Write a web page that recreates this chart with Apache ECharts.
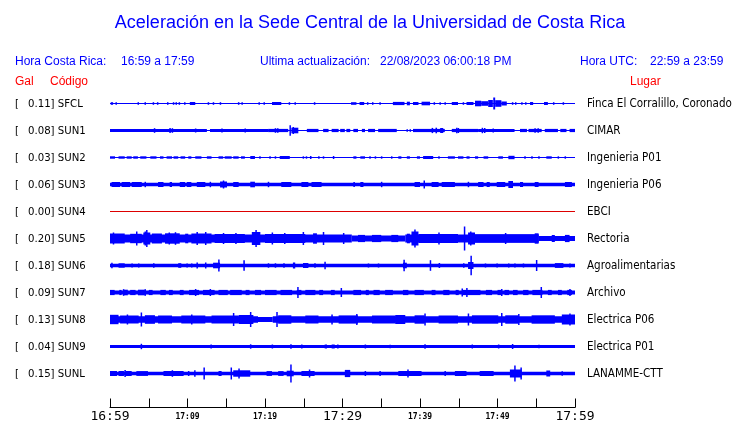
<!DOCTYPE html>
<html><head><meta charset="utf-8">
<script src="https://cdn.jsdelivr.net/npm/echarts@6/dist/echarts.min.js"></script>
<style>html,body{margin:0;padding:0;background:#fff}#c{width:740px;height:423px}</style>
</head><body><div id="c"></div>
<script>
// ---- data ----
const titleText = 'Aceleración en la Sede Central de la Universidad de Costa Rica';
const codes = ['SFCL','SUN1','SUN2','SUN3','SUN4','SUN5','SUN6','SUN7','SUN8','SUN9','SUNL'];
const gal = ['0.11','0.08','0.03','0.06','0.00','0.20','0.18','0.09','0.13','0.04','0.15'];
const places = ['Finca El Corralillo, Coronado','CIMAR','Ingenieria P01','Ingenieria P06','EBCI','Rectoria','Agroalimentarias','Archivo','Electrica P06','Electrica P01','LANAMME-CTT'];
const traceColors = ['#0000ff','#0000ff','#0000ff','#0000ff','#dd0000','#0000ff','#0000ff','#0000ff','#0000ff','#0000ff','#0000ff'];
const startMinute = 16*60+59;      // 16:59 local
const spanMinutes = 60;
const bigTicks = [0,30,60];
const smallTicks = [10,20,40,50];
// envelope segments per trace: [startMin, endMin, halfAmplitude]
const envSFCL = [[0,60,0.5],[0.1,0.4,1.3],[0.75,0.85,1.3],[3.6,3.7,1.3],[4.5,4.6,1.3],[5.55,5.65,1.3],[6.1,6.2,1.3],[7.4,7.5,1.3],[8.15,8.25,1.3],[8.5,8.6,1.3],[8.9,9,1.3],[9.6,9.7,1.3],[10.3,11.0,1.5],[12.65,12.75,1.3],[13.3,13.4,1.3],[14.2,14.3,1.3],[16.55,16.65,1.3],[17,17.1,1.3],[19.2,19.3,1.3],[19.85,19.95,1.3],[20.9,22.1,1.5],[23.1,23.2,1.3],[23.85,23.95,1.3],[26.35,26.45,1.3],[31.1,31.8,1.3],[32.2,32.8,1.5],[33.2,33.3,1.3],[33.85,33.95,1.3],[34.8,34.9,1.3],[36.5,38,1.6],[38.3,38.7,1.8],[39.1,39.8,1.5],[40.2,41.3,1.8],[41.8,41.9,1.3],[42.55,42.65,1.3],[43.2,43.3,1.3],[44.1,44.9,1.5],[45.55,45.65,1.3],[46,46.9,1.5],[47.1,47.9,2.8],[47.9,48.8,2.3],[48.8,49.4,3.5],[49.45,49.7,6],[49.7,50.5,3.3],[50.5,51.2,2],[51.9,52,1.3],[52.3,52.4,1.3],[53.1,53.2,1.3],[53.6,53.7,1.3],[54.2,54.6,1.5],[56,56.5,1.5],[57.2,57.3,1.3],[58.45,58.55,1.3]];
const envSUN1 = [[0,60,0.5],[0,12.5,1.6],[12.9,20.4,1.6],[20.4,23.0,1.6],[23.4,24.3,2.8],[25.4,26.9,1.6],[27.5,28.2,1.6],[28.6,29.5,1.6],[29.7,30.3,1.6],[30.5,31.0,1.6],[31.4,32.0,1.6],[32.5,32.9,1.6],[33.3,34.2,1.6],[34.6,37.0,1.6],[38.3,38.4,1.3],[38.7,38.8,1.3],[39.1,43.2,1.6],[44.1,47.5,1.6],[47.5,52.2,1.6],[52.9,53.8,1.6],[54.0,55.7,1.6],[56.1,57.8,1.6],[58.1,58.9,1.6],[59.3,60,1.6],[5.7,5.8,2.3],[7.7,7.8,2.5],[8.0,8.1,2.3],[11,11.1,2],[14.4,14.5,2],[17.4,17.5,2],[21.3,21.4,2.3],[21.6,21.7,2.2],[23.2,23.3,5.3],[23.6,23.7,3.5],[41.5,41.7,2.6],[42.0,42.2,2.8],[42.6,43.0,2.5],[44.7,44.8,2.8],[44.9,45.0,2.5],[48.0,48.1,2.7],[48.3,48.4,2.5],[49.4,49.5,2],[54.8,54.9,2.3],[55.2,55.3,2.2]];
const envSUN2 = [[0,60,0.5],[0,0.65,1.2],[1.1,1.9,1.2],[2.15,2.8,1.2],[3.0,3.6,1.2],[3.9,4.7,1.2],[5.2,6.0,1.2],[6.45,6.9,1.2],[7.3,8.0,1.2],[8.2,8.8,1.2],[9.1,9.7,1.2],[10.1,10.5,1.2],[11.0,11.8,1.2],[12.5,13.1,1.2],[14.0,14.6,1.2],[14.8,15.7,1.2],[15.9,16.6,1.2],[16.9,17.4,1.2],[18.1,18.7,1.5],[19.3,19.4,1.2],[20.6,20.7,1.2],[21.3,21.4,1.2],[21.9,23.2,1.5],[24.9,25.0,1.2],[25.3,25.4,1.2],[25.8,26.0,1.5],[26.9,27.0,1.2],[27.5,27.6,1.2],[28.8,28.9,1.5],[31.4,31.8,1.2],[32.3,32.9,1.2],[33.5,33.6,1.2],[34.2,34.3,1.2],[35.0,35.1,1.2],[36.3,36.4,1.2],[37.2,37.6,1.2],[38.3,38.7,1.2],[39.6,40.0,1.2],[40.4,41.7,1.5],[42.4,42.5,1.2],[43.6,44.5,1.2],[44.9,45.6,1.2],[46.0,46.4,1.2],[47.1,47.5,1.2],[48.2,48.8,1.2],[50.1,50.7,1.2],[51.4,52.2,1.7],[53.5,53.6,1.2],[54.4,54.5,1.2],[55.3,55.4,1.2],[56.3,57.0,1.2],[57.8,57.9,1.2],[58.7,58.8,1.2]];
const envSUN3 = [[0,60,1.7],[0.2,1.3,2.5],[1.5,2.6,2.5],[2.8,4.1,2.5],[4.5,4.6,2.7],[6.2,6.9,2.5],[7.7,8.0,2.5],[9.0,9.7,2.5],[9.9,10.5,2.5],[11.2,12.3,2.5],[12.9,13.0,2.7],[14.2,15.1,3],[14.6,14.7,4],[15.9,16.6,2.5],[18.1,18.7,2.8],[20.4,20.5,2.7],[22.1,23.4,2.5],[24.7,25.6,2.5],[26.0,27.3,2.5],[31.4,31.6,2.5],[32.3,32.7,2.5],[35.0,35.1,2.7],[39.3,40.0,2.5],[40.5,40.6,4],[41.5,42.4,2.5],[42.8,44.5,2.5],[46.2,46.3,2.7],[47.5,48.2,2.5],[48.6,49.0,2.5],[49.9,51.0,2.5],[51.4,52.0,3.5],[52.9,53.3,2.5],[54.8,55.3,2.5],[58.7,59.6,2.5]];
const envSUN4 = [[0,60,0.5]];
const envSUN5 = [[0,31.2,4],[31.2,38.1,3],[38.1,55.3,4],[55.3,60,2.5],[0,1.9,5],[0.4,0.5,6],[2.6,4.1,4.7],[3.4,3.5,7],[4.3,5.2,6],[4.7,4.8,8.5],[4.5,4.6,7],[5.4,6.7,5],[7.1,9.0,5.2],[7.6,7.7,6],[8.4,8.5,6.3],[9.7,10.1,4.8],[10.5,13.1,5],[11.2,11.3,6.5],[12.3,12.4,6.5],[13.5,17.4,4.5],[14.6,14.7,5.5],[16.2,16.3,5.5],[18.3,19.4,6.5],[18.8,18.9,8.5],[20.0,25.2,4.5],[20.9,21.0,6],[22.5,22.6,5.5],[24.9,25.0,6.5],[26.2,26.7,5.2],[27.5,27.6,6.5],[30.1,30.2,5.5],[32.0,32.9,3.6],[33.8,35.0,3.6],[36.3,37.2,3.6],[38.3,38.7,4.8],[38.9,39.8,7],[39.3,39.4,9],[39.8,44.9,4.6],[42.4,42.5,6],[45.7,45.8,12],[46.2,47.1,6],[46.5,46.6,7],[47.1,55.3,4.2],[51.0,51.1,5.5],[54.8,55.3,5.2],[57.0,57.4,3.5],[58.7,59.3,3.6]];
const envSUN6 = [[0,60,1.7],[0.2,0.3,2.8],[1.1,1.9,2.2],[2.8,2.9,2],[3.66,3.76,2],[5.6,5.7,2.2],[8.8,9.2,2.3],[9.9,10.0,2],[10.5,10.6,2],[11.2,11.3,3],[12.3,12.4,3],[13.3,14.2,2.8],[14.0,14.1,6],[17.2,17.4,5.3],[20.4,20.5,2.2],[21.3,21.4,2.2],[22.4,22.5,2.2],[23.6,23.9,3],[24.9,25.6,2.5],[26.4,26.5,2.2],[27.7,27.8,3.7],[33.3,33.4,2],[34.6,34.7,2],[37.8,38.3,2.8],[37.9,38.0,5.8],[41.3,41.4,5.3],[42.4,42.6,2.5],[45.6,45.7,2.2],[46.2,46.9,3.5],[46.55,46.65,9.8],[48.4,48.5,2],[49.9,50.0,2],[51.4,51.5,2],[52.2,52.3,2],[53.3,53.4,2],[55.0,55.1,5.5],[57.4,58.5,2.4],[59.3,59.4,2]];
const envSUN7 = [[0,60,2],[0,0.6,2.6],[1.2,1.5,2.6],[1.7,2.3,2.8],[1.7,1.8,3.3],[2.6,3.3,2.6],[3.6,4.5,2.8],[4.5,4.6,3.3],[5.0,5.5,2.6],[6.5,7.2,2.6],[7.6,8.1,2.6],[9.0,9.5,2.6],[10.2,11.5,2.6],[11.0,11.1,3.5],[12.0,13.5,2.6],[12.9,13.0,3.5],[14.0,15.2,2.6],[15.5,17.0,2.6],[17.5,18.0,2.6],[18.7,19.5,2.6],[20.0,21.5,2.6],[22.0,23.5,2.6],[24.1,24.7,2.6],[24.2,24.3,5.5],[25.2,26.5,2.6],[27.0,27.5,2.6],[28.5,29.0,2.6],[29.8,29.9,4.5],[31.4,32.4,2.6],[33.0,33.4,2.6],[34.0,34.8,2.6],[35.5,36.5,2.6],[37.8,38.5,2.6],[39.3,40.5,2.6],[41.5,42.0,2.6],[43.0,43.8,2.6],[44.6,45.0,2.6],[45.5,47.8,2.6],[45.4,45.5,4],[46.0,46.1,4.5],[48.5,49.3,2.6],[50.0,50.5,2.6],[50.5,50.6,3.5],[50.9,51.5,2.6],[52.0,52.6,2.6],[53.3,54.0,2.6],[54.5,55.8,2.6],[55.6,55.7,5.5],[56.5,57.0,2.6],[57.8,58.3,2.6],[59.0,59.6,2.6],[59.3,59.4,3.5]];
const envSUN8 = [[0,19.1,3.3],[19.1,21,2.5],[21,60,3.3],[0,1.1,4.7],[1.3,3.7,4],[2.2,2.3,5],[4.0,4.1,7],[4.5,5.8,4.3],[6.2,8.0,4],[9.2,12.3,4],[10.5,10.6,5],[13.1,16.6,4],[15.9,16.0,6.5],[16.6,18.5,4.5],[18.1,18.2,7.5],[21.5,21.6,7.5],[21.7,23.4,4.2],[25.2,26.9,4],[28.6,28.7,5],[29.5,32.0,4.1],[31.8,31.9,5.5],[33.8,36.8,4],[36.8,38.1,4.5],[39.3,40.6,4.2],[40.6,40.7,6],[42.4,44.9,4],[46.2,46.3,6],[46.7,50.1,4.2],[50.5,50.6,6.5],[51.0,52.7,4.2],[52.7,52.8,5.5],[54.4,57.4,4.2],[58.3,60,5],[59.3,59.4,6]];
const envSUN9 = [[0,60,1.5],[4.0,4.1,2.7],[13.0,13.1,2],[18.1,18.2,2.2],[20.9,21.0,2],[23.3,23.4,2.2],[24.7,24.8,2],[27.7,28.0,2],[28.6,29.0,2],[29.3,29.5,2],[32.9,33.0,2],[36.1,36.2,1.8],[40.6,40.7,2.2],[46.7,46.8,2],[50.1,50.2,2],[51.9,52.0,2.5],[55.3,55.4,1.8]];
const envSUNL = [[0,60,1.7],[0,0.9,2.5],[1.1,1.8,2.5],[2.0,2.8,2.5],[1.9,2.0,3.5],[3.4,4.9,2.4],[6.9,9.5,2.5],[8.0,8.1,3.3],[10.1,10.2,2.5],[10.9,11.0,3.3],[12.1,12.2,6],[14.0,14.4,2.5],[15.6,15.7,6],[15.9,18.1,3.2],[16.6,16.7,5],[20.2,20.9,2.4],[21.7,22.4,2.4],[22.8,23.7,2.8],[23.3,23.4,9],[24.7,26.4,2.5],[25.7,25.8,4],[30.3,31.0,3.6],[32.9,33.0,2.5],[34.8,34.9,2.5],[37.2,40.2,2.5],[38.4,38.5,4],[43.2,43.3,2.5],[44.5,46.0,2.5],[47.7,49.5,2.5],[51.6,53.1,4],[52.2,52.3,8],[53.0,53.1,6],[56.3,56.8,3],[58.3,58.4,2.3]];
const envelopes = [envSFCL, envSUN1, envSUN2, envSUN3, envSUN4, envSUN5, envSUN6, envSUN7, envSUN8, envSUN9, envSUNL];

// ---- layout ----
const plotLeft = 110, plotWidth = 465;
const rowTop0 = 89, rowStep = 27, rowHeight = 29;
const blue = '#0000ff', red = '#ff0000';
const condensed = "'DejaVu Sans Condensed', 'Liberation Sans Narrow', 'DejaVu Sans', sans-serif";
const arial = "'Liberation Sans', Arial, sans-serif";
const mono = "'DejaVu Sans Mono', monospace";

function fmtTime(v) {
  const t = startMinute + Math.round(v);
  const h = Math.floor(t/60), m = t % 60;
  return h + ':' + (m < 10 ? '0' : '') + m;
}

const grids = [], xAxes = [], yAxes = [], series = [], graphics = [];
codes.forEach((code, i) => {
  const top = rowTop0 + i*rowStep;
  grids.push({left: plotLeft, width: plotWidth, top: top, height: rowHeight});
  xAxes.push({gridIndex: i, type: 'value', min: 0, max: spanMinutes, show: false});
  yAxes.push({gridIndex: i, type: 'value', min: -rowHeight/2, max: rowHeight/2, show: false});
  const color = traceColors[i];
  series.push({
    type: 'custom', xAxisIndex: i, yAxisIndex: i, clip: true, silent: true,
    encode: {x: [0,1], y: 2},
    data: envelopes[i],
    renderItem: function (params, api) {
      const t0 = api.value(0), t1 = api.value(1), h = api.value(2);
      const a = api.coord([t0, h]), b = api.coord([t1, -h]);
      let x = a[0], w = b[0]-a[0];
      if (w < 1.5) { x = (a[0]+b[0])/2 - 0.75; w = 1.5; }
      return {type: 'rect', shape: {x: x, y: a[1], width: w, height: b[1]-a[1]}, style: {fill: color}};
    }
  });
  const cy = top + rowHeight/2;
  graphics.push({type:'text', left: 15, top: cy-5, style:{text:'[', font: '11.3px ' + condensed, fill:'#000'}});
  graphics.push({type:'text', left: 28, top: cy-5, style:{text: gal[i] + '] ' + code, font: '11.3px ' + condensed, fill:'#000'}});
  graphics.push({type:'text', left: 587, top: cy-5, style:{text: places[i], font: '11.5px ' + condensed, fill:'#000'}});
});
// time axis grid
const ai = codes.length;
grids.push({left: plotLeft, width: plotWidth, top: 395, height: 14});
yAxes.push({gridIndex: ai, type: 'value', show: false});
xAxes.push({gridIndex: ai, type: 'value', min: 0, max: spanMinutes, interval: 5, position: 'bottom',
  axisLine: {show: true, lineStyle: {color: '#000', width: 1}},
  axisTick: {show: true, inside: true, length: 9, lineStyle: {color: '#000'}},
  splitLine: {show: false},
  axisLabel: {show: true, margin: 9, verticalAlign: 'middle', color: '#000', fontFamily: mono, fontSize: 13,
    showMinLabel: true, showMaxLabel: true,
    formatter: v => bigTicks.indexOf(Math.round(v)) >= 0 ? fmtTime(v) : ''}});
xAxes.push({gridIndex: ai, type: 'value', min: 0, max: spanMinutes, interval: 5, position: 'bottom',
  axisLine: {show: false}, axisTick: {show: false}, splitLine: {show: false},
  axisLabel: {show: true, margin: 9, verticalAlign: 'middle', color: '#000', fontFamily: mono, fontSize: 8, fontWeight: 'bold',
    formatter: v => smallTicks.indexOf(Math.round(v)) >= 0 ? fmtTime(v) : ''}});

// header texts
graphics.push({type:'text', left: 'center', top: 14, style:{text: titleText, font: '18px ' + arial, fill: blue}});
graphics.push({type:'text', left: 15, top: 55.5, style:{text: 'Hora Costa Rica:', font: '12px ' + arial, fill: blue}});
graphics.push({type:'text', left: 121, top: 55.5, style:{text: fmtTime(0) + ' a ' + fmtTime(spanMinutes), font: '12px ' + arial, fill: blue}});
graphics.push({type:'text', left: 260, top: 55.5, style:{text: 'Ultima actualización:', font: '12px ' + arial, fill: blue}});
graphics.push({type:'text', left: 380, top: 55.5, style:{text: '22/08/2023 06:00:18 PM', font: '12px ' + arial, fill: blue}});
graphics.push({type:'text', left: 580, top: 55.5, style:{text: 'Hora UTC:', font: '12px ' + arial, fill: blue}});
graphics.push({type:'text', left: 650, top: 55.5, style:{text: '22:59 a 23:59', font: '12px ' + arial, fill: blue}});
graphics.push({type:'text', left: 15, top: 76, style:{text: 'Gal', font: '12px ' + arial, fill: red}});
graphics.push({type:'text', left: 50, top: 76, style:{text: 'Código', font: '12px ' + arial, fill: red}});
graphics.push({type:'text', left: 630, top: 76, style:{text: 'Lugar', font: '12px ' + arial, fill: red}});

const chart = echarts.init(document.getElementById('c'), null, {renderer: 'canvas'});
chart.setOption({
  animation: false,
  backgroundColor: '#fff',
  grid: grids, xAxis: xAxes, yAxis: yAxes, series: series,
  graphic: graphics
});
</script></body></html>
